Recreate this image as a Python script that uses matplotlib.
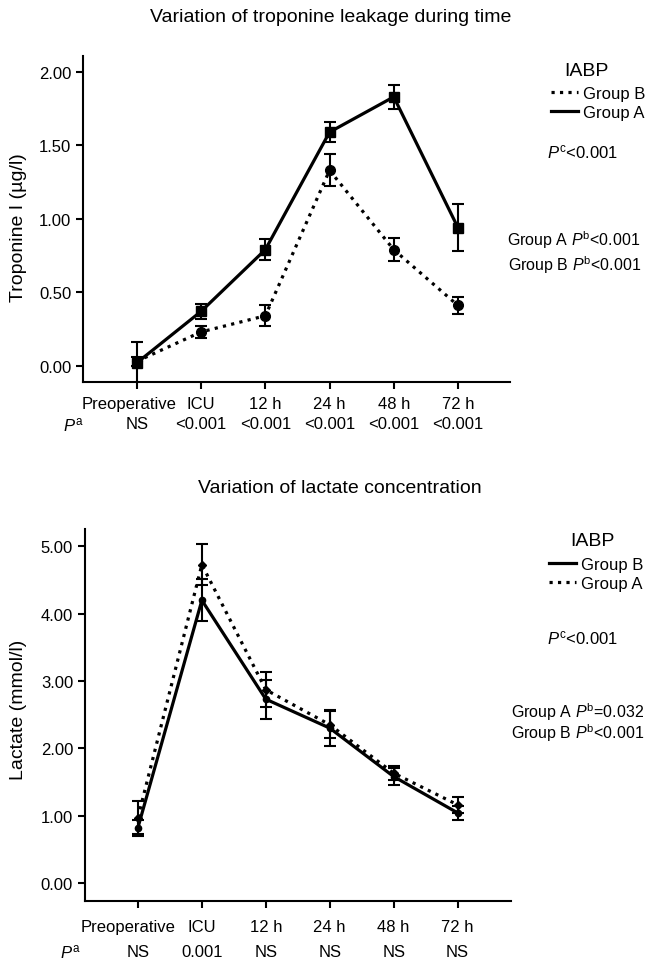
import matplotlib
matplotlib.use("Agg")
import matplotlib.pyplot as plt
from matplotlib.lines import Line2D
from matplotlib.transforms import ScaledTranslation

plt.rcParams['font.family'] = ['Liberation Sans', 'DejaVu Sans']
plt.rcParams['mathtext.fontset'] = 'custom'
plt.rcParams['mathtext.rm'] = 'Liberation Sans'
plt.rcParams['mathtext.it'] = 'Liberation Sans:italic'

# === data ===
timepoints = ['Preoperative', 'ICU', '12 h', '24 h', '48 h', '72 h']

trop_a = [0.02, 0.37, 0.79, 1.59, 1.83, 0.94]
trop_a_err = [0.14, 0.05, 0.07, 0.07, 0.08, 0.16]
trop_b = [0.03, 0.23, 0.34, 1.33, 0.79, 0.41]
trop_b_err = [0.03, 0.04, 0.07, 0.11, 0.08, 0.06]
trop_p = ['NS', '<0.001', '<0.001', '<0.001', '<0.001', '<0.001']

lac_a = [0.97, 4.73, 2.87, 2.35, 1.63, 1.16]
lac_a_err = [0.25, 0.30, 0.26, 0.20, 0.10, 0.12]
lac_b = [0.82, 4.20, 2.73, 2.30, 1.58, 1.04]
lac_b_err = [0.12, 0.31, 0.29, 0.27, 0.13, 0.10]
lac_p = ['NS', '0.001', 'NS', 'NS', 'NS', 'NS']

x = list(range(len(timepoints)))

fig = plt.figure(figsize=(6.48, 9.62), dpi=100)
ax1 = fig.add_axes([0.128, 0.602, 0.659, 0.339])
ax2 = fig.add_axes([0.131, 0.0624, 0.657, 0.3867])


def px(xp, yp):
    # pixel position (from top-left) -> figure fraction
    return xp / 648, 1 - yp / 962


def style_axis(ax, pad, shift_px):
    for s in ['top', 'right']:
        ax.spines[s].set_visible(False)
    for s in ['left', 'bottom']:
        ax.spines[s].set_linewidth(1.5)
    ax.tick_params(direction='out', length=5, width=1.5, labelsize=12)
    ax.tick_params(axis='x', pad=pad)
    ax.set_xticks(x)
    ax.set_xticklabels(timepoints)
    # the first label sits a bit left of its tick in the original
    lab = ax.get_xticklabels()[0]
    lab.set_transform(lab.get_transform() + ScaledTranslation(-shift_px / 100, 0, fig.dpi_scale_trans))


def add_legend(ax, handles, title_xy, top_xy):
    fig.text(*px(*title_xy), 'IABP', ha='center', va='center', fontsize=14)
    ax.legend(handles, ['Group B', 'Group A'], frameon=False, fontsize=12,
              loc='upper left', bbox_to_anchor=px(*top_xy),
              bbox_transform=fig.transFigure, borderpad=0, borderaxespad=0,
              handlelength=1.6, handletextpad=0.3, labelspacing=0.25)


# === top panel: troponine ===
ax1.errorbar(x, trop_b, yerr=trop_b_err, color='black', linestyle=':', lw=2.3,
             marker='o', ms=7, capsize=4, elinewidth=1.5, capthick=1.5)
ax1.errorbar(x, trop_a, yerr=trop_a_err, color='black', linestyle='-', lw=2.3,
             marker='s', ms=7.5, capsize=4, elinewidth=1.5, capthick=1.5)
ax1.set_xlim(-0.84, 5.81)
ax1.set_ylim(-0.11, 2.11)
ax1.set_yticks([0, 0.5, 1.0, 1.5, 2.0])
ax1.set_yticklabels(['%.2f' % v for v in [0, 0.5, 1.0, 1.5, 2.0]])
style_axis(ax1, 5, 8)
ax1.set_ylabel('Troponine I (µg/l)', fontsize=14)
ax1.yaxis.set_label_coords(-0.131, 0.475)
for xi, p in zip(x, trop_p):
    ax1.text(xi, -0.129, p, transform=ax1.get_xaxis_transform(), ha='center', va='center', fontsize=12)
ax1.text(-0.022, -0.129, r'$P^{\mathrm{a}}$', transform=ax1.transAxes, ha='center', va='center', fontsize=12)

h1 = [Line2D([], [], color='black', ls=':', lw=2.3), Line2D([], [], color='black', ls='-', lw=2.3)]
add_legend(ax1, h1, (586, 72), (551, 87))
fig.text(*px(547, 152), r'$P^{\mathrm{c}}$<0.001', ha='left', va='center', fontsize=12)
fig.text(*px(574, 240), r'Group A $P^{\mathrm{b}}$<0.001', ha='center', va='center', fontsize=11.5)
fig.text(*px(575, 265), r'Group B $P^{\mathrm{b}}$<0.001', ha='center', va='center', fontsize=11.5)
fig.text(*px(331, 18), 'Variation of troponine leakage during time', ha='center', va='center', fontsize=14)

# === bottom panel: lactate ===
ax2.errorbar(x, lac_a, yerr=lac_a_err, color='black', linestyle=':', lw=2.3,
             marker='D', ms=4, capsize=4, elinewidth=1.5, capthick=1.5)
ax2.errorbar(x, lac_b, yerr=lac_b_err, color='black', linestyle='-', lw=2.3,
             marker='o', ms=4.5, capsize=4, elinewidth=1.5, capthick=1.5)
ax2.set_xlim(-0.83, 5.83)
ax2.set_ylim(-0.27, 5.26)
ax2.set_yticks([0, 1, 2, 3, 4, 5])
ax2.set_yticklabels(['%.2f' % v for v in [0, 1, 2, 3, 4, 5]])
style_axis(ax2, 8, 10)
ax2.set_ylabel('Lactate (mmol/l)', fontsize=14)
ax2.yaxis.set_label_coords(-0.136, 0.516)
for xi, p in zip(x, lac_p):
    ax2.text(xi, -0.136, p, transform=ax2.get_xaxis_transform(), ha='center', va='center', fontsize=12)
ax2.text(-0.035, -0.134, r'$P^{\mathrm{a}}$', transform=ax2.transAxes, ha='center', va='center', fontsize=12)

h2 = [Line2D([], [], color='black', ls='-', lw=2.3), Line2D([], [], color='black', ls=':', lw=2.3)]
add_legend(ax2, h2, (592, 542), (549, 558))
fig.text(*px(547, 638), r'$P^{\mathrm{c}}$<0.001', ha='left', va='center', fontsize=12)
fig.text(*px(578, 712), r'Group A $P^{\mathrm{b}}$=0.032', ha='center', va='center', fontsize=11.5)
fig.text(*px(578, 733), r'Group B $P^{\mathrm{b}}$<0.001', ha='center', va='center', fontsize=11.5)
fig.text(*px(340, 489), 'Variation of lactate concentration', ha='center', va='center', fontsize=14)

fig.savefig('out.png', dpi=100)
